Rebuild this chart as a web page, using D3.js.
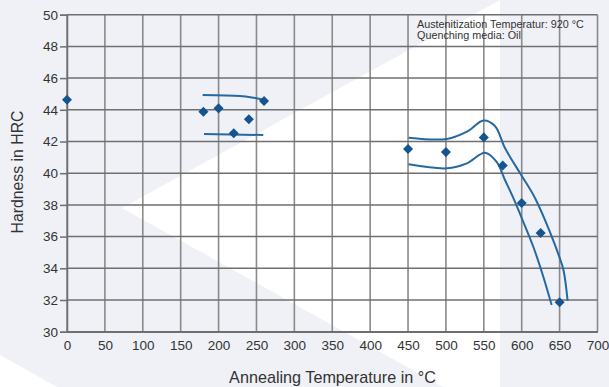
<!DOCTYPE html>
<html>
<head>
<meta charset="utf-8">
<script src="https://cdn.jsdelivr.net/npm/d3@7/dist/d3.min.js"></script>
<style>
  html, body { margin: 0; padding: 0; background: #eff1f7; }
  svg { display: block; font-family: "Liberation Sans", Arial, sans-serif; }
</style>
</head>
<body>
<svg id="chart" width="609" height="387"></svg>
<script>
// Measured hardness after annealing (temperature °C, hardness HRC)
const temperatures = [0, 180, 200, 220, 240, 260, 450, 500, 550, 575, 600, 625, 650];
const hardness     = [44.64, 43.88, 44.09, 42.52, 43.4, 44.56, 41.53, 41.33, 42.26, 40.49, 38.12, 36.23, 31.86];

// Scatter band boundaries
const bandLowUpper = [[179, 44.93], [228, 44.87], [244, 44.78], [261.3, 44.62]];
const bandLowLower = [[180.8, 42.47], [259, 42.41]];
const bandHighUpper = [[450.7, 42.24], [501.3, 42.16], [527.7, 42.62], [549.6, 43.33], [564.7, 42.98],
                       [577.9, 41.59], [597.7, 40.01], [617.5, 38.44], [637.3, 36.29], [649.2, 34.78],
                       [655.1, 33.89], [660.6, 31.94]];
const bandHighLower = [[450.7, 40.56], [501.3, 40.31], [527.7, 40.62], [551.5, 41.29], [566.9, 40.71],
                       [577.9, 39.57], [588.9, 38.44], [600, 37.17], [615.3, 35.36], [628.5, 33.47],
                       [639.5, 31.68]];

const xTicks = d3.range(0, 701, 50);
const yTicks = d3.range(30, 51, 2);

const noteLines = ["Austenitization Temperatur: 920 °C", "Quenching media: Oil"];
const xTitle = "Annealing Temperature in °C";
const yTitle = "Hardness in HRC";

const svg = d3.select("#chart");
const W = 609, H = 387;

// Decorative backdrop
const bg = svg.append("g");
bg.append("rect").attr("width", W).attr("height", H).attr("fill", "#eff1f7");
bg.append("polygon").attr("points", "122,208 500,0 500,387 443,387").attr("fill", "#ffffff");
bg.append("polygon").attr("points", "0,355 57,387 0,387").attr("fill", "#ffffff");

const x = d3.scaleLinear().domain([0, 700]).range([67, 597.5]);
const y = d3.scaleLinear().domain([30, 50]).range([331.7, 14.7]);

// Grid
const grid = svg.append("g");
grid.selectAll("line.v").data(xTicks).join("line")
  .attr("x1", d => x(d)).attr("x2", d => x(d))
  .attr("y1", y(30)).attr("y2", y(50))
  .attr("stroke", "#8a8a8a").attr("stroke-width", 1.6);
grid.selectAll("line.h").data(yTicks).join("line")
  .attr("x1", x(0)).attr("x2", x(700))
  .attr("y1", d => y(d)).attr("y2", d => y(d))
  .attr("stroke", "#6f6f6f").attr("stroke-width", 1.5);

// Axes
const yAxis = svg.append("g").attr("transform", `translate(${x(0)},0)`)
  .call(d3.axisLeft(y).tickValues(yTicks).tickSize(7).tickPadding(2).tickFormat(d3.format("d")));
yAxis.select(".domain").attr("stroke", "#6f6f6f").attr("stroke-width", 1.5);
yAxis.selectAll(".tick line").attr("stroke", "#6f6f6f").attr("stroke-width", 1.5);
yAxis.selectAll("text").attr("font-size", 13.5).attr("fill", "#333").attr("font-family", "Liberation Sans, Arial, sans-serif");

const xAxis = svg.append("g").attr("transform", `translate(0,${y(30)})`)
  .call(d3.axisBottom(x).tickValues(xTicks).tickSize(0).tickPadding(9).tickFormat(d3.format("d")));
xAxis.select(".domain").attr("stroke", "#6f6f6f").attr("stroke-width", 1.5);
xAxis.selectAll("text").attr("font-size", 13.5).attr("fill", "#333").attr("font-family", "Liberation Sans, Arial, sans-serif");

// Bands
const line = d3.line().x(d => x(d[0])).y(d => y(d[1])).curve(d3.curveCatmullRom.alpha(0.5));
[bandLowUpper, bandLowLower, bandHighUpper, bandHighLower].forEach(b => {
  svg.append("path").datum(b).attr("d", line)
    .attr("fill", "none").attr("stroke", "#2569a3").attr("stroke-width", 2);
});

// Measured points
const diamond = d3.symbol().type(d3.symbolDiamond2).size(64);
svg.append("g").selectAll("path").data(temperatures.map((t, i) => [t, hardness[i]])).join("path")
  .attr("d", diamond)
  .attr("transform", d => `translate(${x(d[0])},${y(d[1])})`)
  .attr("fill", "#15558f");

// Note
const note = svg.append("text").attr("x", 417).attr("y", 27.5)
  .attr("font-size", 10.8).attr("fill", "#333");
noteLines.forEach((t, i) => note.append("tspan").attr("x", 417).attr("dy", i ? 11.7 : 0).text(t));

// Titles
svg.append("text").attr("x", 332.5).attr("y", 383).attr("text-anchor", "middle")
  .attr("font-size", 16.2).attr("fill", "#333").text(xTitle);
svg.append("text").attr("transform", "translate(23,172) rotate(-90)").attr("text-anchor", "middle")
  .attr("font-size", 15.8).attr("fill", "#333").text(yTitle);
</script>
</body>
</html>
